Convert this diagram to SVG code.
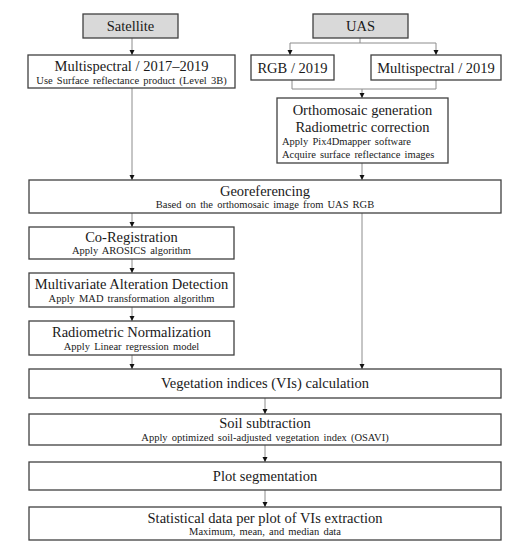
<svg xmlns="http://www.w3.org/2000/svg" width="516" height="550" viewBox="0 0 516 550">
<defs>
<marker id="ah" markerWidth="6" markerHeight="6" refX="5" refY="3" orient="auto" markerUnits="userSpaceOnUse">
<path d="M0,0.5 L5,3 L0,5.5 Z" fill="#111"/>
</marker>
<style>
.box{fill:#fff;stroke:#404040;stroke-width:1.3}
.src{fill:#d9d9d9;stroke:#404040;stroke-width:1.3}
.t{font-family:"Liberation Serif","Times New Roman",serif;font-size:14.5px;fill:#1a1a1a;text-anchor:middle}
.s{font-family:"Liberation Serif","Times New Roman",serif;font-size:10.5px;fill:#1a1a1a;text-anchor:middle;word-spacing:1.5px}
.sl{text-anchor:start}
.c{fill:none;stroke:#8c8c8c;stroke-width:1}
.a{marker-end:url(#ah)}
</style>
</defs>
<rect width="516" height="550" fill="#fff"/>
<g id="connectors">
<path class="c a" d="M132,38 V55"/>
<path class="c a" d="M132,88 V180"/>
<path class="c" d="M360,38 V43 M290,43 H436"/>
<path class="c a" d="M290,43 V55"/>
<path class="c a" d="M436,43 V55"/>
<path class="c" d="M292,80 V89 H436 V80"/>
<path class="c a" d="M362,89 V98"/>
<path class="c a" d="M362,163 V180"/>
<path class="c a" d="M132,213 V227"/>
<path class="c a" d="M132,259 V273"/>
<path class="c a" d="M132,307 V321"/>
<path class="c a" d="M132,355 V369"/>
<path class="c a" d="M362,213 V369"/>
<path class="c a" d="M265,398 V414"/>
<path class="c a" d="M265,445 V462"/>
<path class="c a" d="M265,490 V507"/>
</g>
<g id="satellite">
<rect class="src" x="83" y="14" width="95" height="24"/>
<text class="t" x="130.5" y="31">Satellite</text>
</g>
<g id="uas">
<rect class="src" x="313" y="14" width="95" height="24"/>
<text class="t" x="360.5" y="31">UAS</text>
</g>
<g id="sat-ms">
<rect class="box" x="28" y="55" width="207" height="33"/>
<text class="t" x="131.5" y="71">Multispectral / 2017–2019</text>
<text class="s" x="131.5" y="84">Use Surface reflectance product (Level 3B)</text>
</g>
<g id="uas-rgb">
<rect class="box" x="251" y="55" width="83" height="25"/>
<text class="t" x="292.5" y="73">RGB / 2019</text>
</g>
<g id="uas-ms">
<rect class="box" x="371" y="55" width="130" height="25"/>
<text class="t" x="436" y="73">Multispectral / 2019</text>
</g>
<g id="ortho">
<rect class="box" x="277" y="98" width="171" height="65"/>
<text class="t" x="362.5" y="115">Orthomosaic generation</text>
<text class="t" x="362.5" y="132">Radiometric correction</text>
<text class="s sl" x="282" y="145">Apply Pix4Dmapper software</text>
<text class="s sl" x="282" y="158">Acquire surface reflectance images</text>
</g>
<g id="georef">
<rect class="box" x="29" y="180" width="472" height="33"/>
<text class="t" x="265" y="196">Georeferencing</text>
<text class="s" x="265" y="208">Based on the orthomosaic image from UAS RGB</text>
</g>
<g id="coreg">
<rect class="box" x="29" y="227" width="205" height="32"/>
<text class="t" x="131.5" y="242">Co-Registration</text>
<text class="s" x="131.5" y="254">Apply AROSICS algorithm</text>
</g>
<g id="mad">
<rect class="box" x="29" y="273" width="205" height="34"/>
<text class="t" x="131.5" y="289">Multivariate Alteration Detection</text>
<text class="s" x="131.5" y="302">Apply MAD transformation algorithm</text>
</g>
<g id="radnorm">
<rect class="box" x="29" y="321" width="205" height="34"/>
<text class="t" x="131.5" y="337">Radiometric Normalization</text>
<text class="s" x="131.5" y="350">Apply Linear regression model</text>
</g>
<g id="vi">
<rect class="box" x="29" y="369" width="472" height="29"/>
<text class="t" x="265" y="388">Vegetation indices (VIs) calculation</text>
</g>
<g id="soil">
<rect class="box" x="29" y="414" width="472" height="31"/>
<text class="t" x="265" y="428">Soil subtraction</text>
<text class="s" x="265" y="441">Apply optimized soil-adjusted vegetation index (OSAVI)</text>
</g>
<g id="plot">
<rect class="box" x="29" y="462" width="472" height="28"/>
<text class="t" x="265" y="481">Plot segmentation</text>
</g>
<g id="stats">
<rect class="box" x="29" y="507" width="472" height="33"/>
<text class="t" x="265" y="523">Statistical data per plot of VIs extraction</text>
<text class="s" x="265" y="535">Maximum, mean, and median data</text>
</g>
</svg>
